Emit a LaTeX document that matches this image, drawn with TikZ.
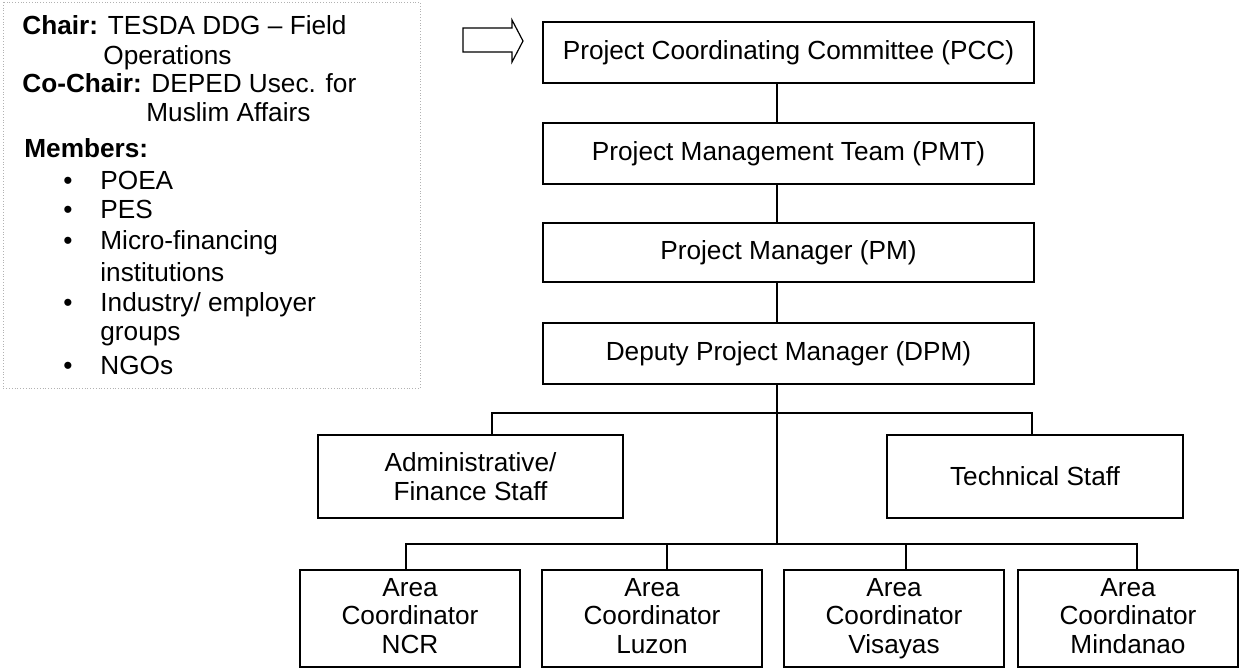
\documentclass[tikz,border=0pt]{standalone}
\usepackage{fontspec}
\setmainfont{Liberation Sans}
\usetikzlibrary{calc}
\begin{document}
\begin{tikzpicture}[x=0.5pt,y=-0.5pt,
  box/.style={draw=black, line width=0.7pt, rectangle, inner sep=0pt, align=center,
              font=\fontsize{13.1}{14.6}\selectfont},
  topbox/.style={box, minimum width=245.5pt, minimum height=30.5pt},
  staffbox/.style={box, minimum height=41.5pt},
  areabox/.style={box, minimum width=110pt, minimum height=48.5pt, font=\fontsize{13.1}{14.2}\selectfont},
  conn/.style={draw=black, line width=0.7pt},
  lbl/.style={anchor=base west, inner sep=0pt, font=\fontsize{13.1}{14.6}\selectfont},
  bul/.style={anchor=base, inner sep=0pt, font=\fontsize{13.1}{14.6}\selectfont},
  ]
\useasboundingbox (0,0) rectangle (1240,670);

% committee box (left)
\draw[gray!60, line width=0.4pt, densely dotted] (3,2) rectangle (420,388);
\node[lbl] (chair) at (22,34) {\textbf{Chair:} TESDA DDG – Field};
\node[lbl] (chairb) at (103,64) {Operations};
\node[lbl] (cochair) at (22,92) {\textbf{Co-Chair:} DEPED Usec. for};
\node[lbl] (cochairb) at (146,121) {Muslim Affairs};
\node[lbl] (members) at (24,157) {\textbf{Members:}};
\node[bul] (b1) at (68,189) {\textbullet};
\node[lbl] (m1) at (100,189) {POEA};
\node[bul] (b2) at (68,218) {\textbullet};
\node[lbl] (m2) at (100,218) {PES};
\node[bul] (b3) at (68,249) {\textbullet};
\node[lbl] (m3) at (100,249) {Micro-financing};
\node[lbl] (m3b) at (100,281) {institutions};
\node[bul] (b4) at (68,311) {\textbullet};
\node[lbl] (m4) at (100,311) {Industry/ employer};
\node[lbl] (m4b) at (100,340) {groups};
\node[bul] (b5) at (68,374) {\textbullet};
\node[lbl] (m5) at (100,374) {NGOs};

% outline arrow
\draw[line width=0.6pt, line join=miter] (463,28) -- (512,28) -- (512,20) -- (523,41)
  -- (512,62) -- (512,52) -- (463,52) -- cycle;

% main chain
\node[topbox] (pcc) at (788.5,52.5) {Project Coordinating Committee (PCC)};
\node[topbox] (pmt) at (788.5,153.5) {Project Management Team (PMT)};
\node[topbox, minimum height=29.5pt] (pm) at (788.5,252.5) {Project Manager (PM)};
\node[topbox] (dpm) at (788.5,353.5) {Deputy Project Manager (DPM)};

\node[staffbox, minimum width=152.5pt] (admin) at (470.5,476.5) {Administrative/\\Finance Staff};
\node[staffbox, minimum width=148pt] (tech) at (1035,476.5) {Technical Staff};

\node[areabox] (ncr) at (410,618.5) {Area\\Coordinator\\NCR\vphantom{y}};
\node[areabox] (luz) at (652,618.5) {Area\\Coordinator\\Luzon\vphantom{y}};
\node[areabox] (vis) at (894,618.5) {Area\\Coordinator\\Visayas};
\node[areabox] (min) at (1128,618.5) {Area\\Coordinator\\Mindanao\vphantom{y}};

% connectors
\coordinate (cx) at (777,0);
\coordinate (a1) at (492,413);
\coordinate (t1) at (1032,413);
\coordinate (bus) at (777,544);
\coordinate (n2) at (406,544);
\coordinate (l2) at (667,544);
\coordinate (v2) at (906,544);
\coordinate (m2) at (1137,544);

\draw[conn] (pcc.south -| cx) -- (pmt.north -| cx);
\draw[conn] (pmt.south -| cx) -- (pm.north -| cx);
\draw[conn] (pm.south -| cx) -- (dpm.north -| cx);
\draw[conn] (dpm.south -| cx) -- (bus);
\draw[conn] (admin.north -| a1) -- (a1) -- (t1) -- (tech.north -| t1);
\draw[conn] (ncr.north -| n2) -- (n2) -- (m2) -- (min.north -| m2);
\draw[conn] (l2) -- (luz.north -| l2);
\draw[conn] (v2) -- (vis.north -| v2);
\end{tikzpicture}
\end{document}
